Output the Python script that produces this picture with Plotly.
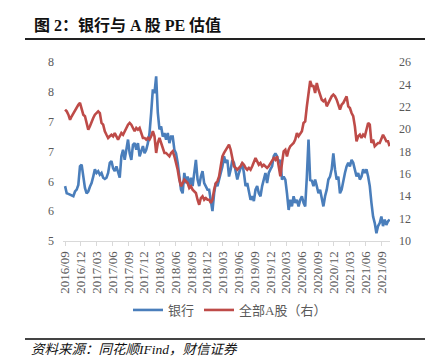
import pandas as pd
import plotly.graph_objects as go

# ---- data ----
bank_pe = [
    5.92, 5.80, 5.79, 5.78, 5.76, 5.75, 5.83, 5.86, 5.94, 6.25,
    6.28, 6.08, 5.89, 5.80, 5.83, 5.91, 5.97, 6.08, 6.20, 6.14,
    6.17, 6.11, 6.14, 6.06, 6.04, 6.06, 6.14, 6.31, 6.34, 6.22,
    6.17, 6.25, 6.14, 6.06, 6.42, 6.53, 6.36, 6.53, 6.70, 6.47,
    6.36, 6.61, 6.64, 6.53, 6.64, 6.42, 6.53,
    6.59, 6.47, 6.53, 6.64, 6.81, 7.15, 7.54, 7.48, 7.76, 7.15,
    6.87, 6.92, 6.75, 6.81, 6.70, 6.81, 6.64, 6.75, 6.75, 6.53,
    6.47, 6.31, 6.08, 5.86, 5.80, 6.14, 5.97, 6.08, 5.92, 6.06,
    5.92, 6.20, 6.36, 6.03, 5.92, 6.08, 6.17, 5.97, 5.92, 5.86,
    5.86, 5.69, 5.50, 5.80, 5.97, 5.92, 6.03, 6.14, 6.25, 6.42,
    6.31, 6.36, 6.08, 6.20, 6.36, 6.31, 6.14, 6.03, 6.14, 6.25,
    6.31, 6.14, 5.92, 5.97, 5.80, 5.69, 5.75, 5.67, 5.86, 5.92,
    5.80, 5.75, 5.92, 6.03, 6.14, 5.97, 6.14, 6.20, 6.25, 6.42,
    6.47, 6.42, 6.31, 6.36, 6.03, 6.08, 6.03, 5.80, 5.52, 5.69,
    5.58, 5.75, 5.64, 5.69, 5.58, 5.69, 5.75, 5.64, 5.58, 6.08,
    6.70, 6.02, 6.01, 5.92, 6.03, 5.92, 5.80, 5.86, 5.69, 5.58,
    5.75, 5.86, 6.03, 6.08, 6.20, 6.47, 6.20, 6.03, 6.08, 5.80,
    5.86, 6.03, 6.14, 6.25, 6.31, 6.25, 6.36, 6.31, 6.20, 6.08,
    6.14, 6.03, 6.08, 6.20, 6.14, 6.20, 6.08, 5.92, 5.64, 5.41,
    5.30, 5.13, 5.25, 5.30, 5.41, 5.25, 5.36, 5.27, 5.33, 5.36,
]

all_a_pe = [
    21.74, 21.59, 21.29, 20.84, 21.15, 21.44, 21.74, 21.89, 22.18, 22.34,
    21.89, 21.29, 21.15, 20.40, 19.95, 20.25, 20.70, 21.00, 21.29, 21.44,
    21.59, 21.44, 20.55, 20.40, 19.81, 19.50, 19.21, 19.36, 19.50, 19.36,
    19.65, 19.36, 19.06, 19.36, 19.65, 19.50, 19.81, 20.10, 20.40, 20.55,
    20.40, 20.10, 19.81, 20.10, 19.95, 20.10, 19.65,
    19.21, 19.21, 19.06, 19.21, 19.06, 19.36, 19.81, 19.36, 17.87, 18.76,
    19.21, 18.76, 18.31, 17.87, 17.87, 17.71, 17.57, 17.87, 18.02, 17.57,
    16.97, 16.37, 15.48, 14.89, 15.18, 15.48, 15.34, 15.18, 14.74, 14.89,
    14.59, 14.44, 14.29, 13.69, 13.24, 13.84, 14.00, 13.69, 13.84, 13.69,
    13.69, 13.40, 13.69, 14.59, 15.18, 15.34, 15.78, 16.68, 17.57, 17.87,
    18.16, 18.31, 18.61, 18.16, 17.27, 16.68, 16.53, 16.37, 16.53, 16.68,
    16.97, 16.82, 16.53, 16.37, 16.53, 16.37, 16.68, 17.12, 17.42, 17.12,
    16.82, 16.97, 16.68, 16.82, 16.68, 16.53, 16.68, 16.97, 17.27, 17.42,
    17.27, 17.57, 16.68, 15.78, 16.97, 18.02, 18.16, 17.57, 18.16, 18.47,
    18.61, 18.76, 19.06, 19.65, 19.36, 19.65, 19.81, 20.55, 20.70, 22.04,
    23.23, 24.30, 23.86, 23.86, 23.23, 24.12, 23.52, 23.08, 22.63, 22.49,
    22.63, 22.04, 22.34, 22.63, 22.93, 23.08, 22.93, 22.63, 22.18, 21.74,
    22.18, 22.34, 22.63, 22.93, 22.04, 21.89, 21.44, 21.15, 20.25, 18.91,
    19.36, 19.50, 19.21, 19.50, 19.36, 19.95, 20.55, 20.40, 18.76, 19.06,
    18.47, 18.61, 18.76, 18.76, 19.06, 19.50, 19.21, 18.91, 18.91, 18.47,
]

start_date = "2016-09-01"
end_date = "2021-10-19"
dates = pd.date_range(start_date, end_date, periods=len(bank_pe))

tick_dates = pd.date_range("2016-09-01", "2021-09-01", freq="3MS")
tick_labels = [d.strftime("%Y/%m") for d in tick_dates]

left_ticks = [5, 5.5, 6, 6.5, 7, 7.5, 8]
left_tick_labels = ["5", "6", "6", "7", "7", "8", "8"]
right_ticks = [10, 12, 14, 16, 18, 20, 22, 24, 26]

series_names = ["银行", "全部A股（右）"]
title_text = "图 2：银行与 A 股 PE 估值"
source_text = "资料来源：同花顺IFind，财信证券"

BLUE = "#4A7EBB"
RED = "#BE4B48"
GRAY = "#595959"
SERIF = "Liberation Serif, Times New Roman, serif"
CJK = "Liberation Serif, Noto Sans CJK SC, serif"

fig = go.Figure()
fig.add_trace(go.Scatter(x=dates, y=bank_pe, name=series_names[0], mode="lines",
                         line=dict(color=BLUE, width=2.6), yaxis="y"))
fig.add_trace(go.Scatter(x=dates, y=all_a_pe, name=series_names[1], mode="lines",
                         line=dict(color=RED, width=2.6), yaxis="y2"))

# plot area: x 55..382 px, y 54..233 px
W, H = 433, 359
L, R, T, B = 55, 51, 54, 126
pw, ph = W - L - R, H - T - B


def px(xp):
    return (xp - L) / pw


def py(yp):
    return (H - B - yp) / ph


fig.update_layout(
    width=W, height=H,
    margin=dict(l=L, r=R, t=T, b=B),
    paper_bgcolor="white", plot_bgcolor="white",
    showlegend=True,
    legend=dict(orientation="h", x=px(222), xanchor="center", y=py(302), yanchor="middle",
                font=dict(family=CJK, size=13, color=GRAY), itemwidth=30,
                bgcolor="rgba(0,0,0,0)"),
    xaxis=dict(
        type="date", range=["2016-08-20", "2021-10-21"],
        tickvals=list(tick_dates), ticktext=tick_labels, tickangle=-90,
        tickfont=dict(family=SERIF, size=13, color=GRAY),
        showgrid=False, zeroline=False,
        showline=True, linecolor="#D9D9D9", linewidth=1,
        ticks="outside", ticklen=4, tickcolor="#D9D9D9",
    ),
    yaxis=dict(
        range=[5, 8], tickvals=left_ticks, ticktext=left_tick_labels,
        tickfont=dict(family=SERIF, size=12, color=GRAY),
        showgrid=False, zeroline=False, showline=False, ticks="",
        ticklabelstandoff=8,
    ),
    yaxis2=dict(
        range=[10, 26], tickvals=right_ticks, overlaying="y", side="right",
        tickfont=dict(family=SERIF, size=12, color=GRAY),
        showgrid=False, zeroline=False, showline=False, ticks="",
        ticklabelstandoff=8,
    ),
    shapes=[
        dict(type="line", xref="paper", yref="paper", x0=px(17), x1=px(420),
             y0=py(31), y1=py(31), line=dict(color="#222222", width=2)),
        dict(type="line", xref="paper", yref="paper", x0=px(17), x1=px(420),
             y0=py(331), y1=py(331), line=dict(color="#444444", width=2)),
    ],
    annotations=[
        dict(text="<b>" + title_text + "</b>", xref="paper", yref="paper",
             x=px(24), y=py(17), xanchor="left", yanchor="middle", showarrow=False,
             font=dict(family=CJK, size=16, color="#111111")),
        dict(text="<i>" + source_text + "</i>", xref="paper", yref="paper",
             x=px(21), y=py(341), xanchor="left", yanchor="middle", showarrow=False,
             font=dict(family=CJK, size=13.5, color="#111111")),
    ],
)

fig.write_html("out.html")
